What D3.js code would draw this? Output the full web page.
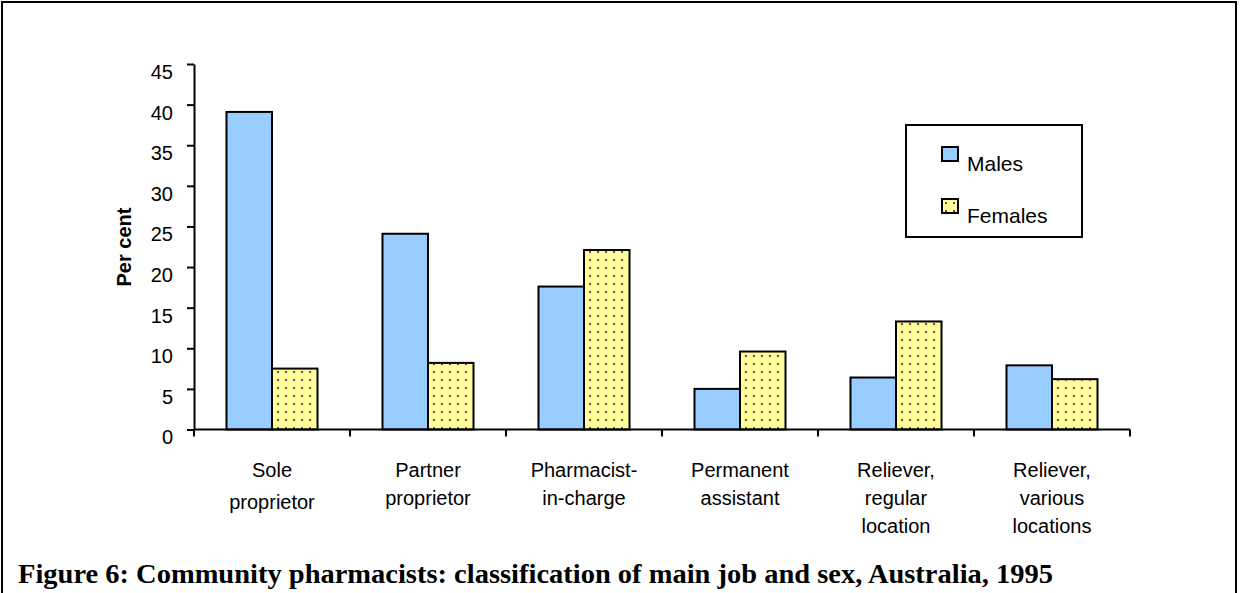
<!DOCTYPE html>
<html>
<head>
<meta charset="utf-8">
<script src="https://cdn.jsdelivr.net/npm/d3@7"></script>
<style>
  body { margin: 0; background: #fff; }
  svg { display: block; }
</style>
</head>
<body>
<div id="chart"></div>
<script>
// categories (each label split in its lines)
const categories = ["Sole proprietor", "Partner proprietor", "Pharmacist-in-charge",
    "Permanent assistant", "Reliever, regular location", "Reliever, various locations"];
const categoryLines = [
    ["Sole", "proprietor"],
    ["Partner", "proprietor"],
    ["Pharmacist-", "in-charge"],
    ["Permanent", "assistant"],
    ["Reliever,", "regular", "location"],
    ["Reliever,", "various", "locations"]
];
const seriesNames = ["Males", "Females"];
const males = [39.1, 24.1, 17.6, 5.0, 6.4, 7.9];
const females = [7.5, 8.2, 22.1, 9.6, 13.3, 6.2];
const yTicks = [0, 5, 10, 15, 20, 25, 30, 35, 40, 45];
const caption = "Figure 6: Community pharmacists: classification of main job and sex, Australia, 1995";

const width = 1241, height = 593;
const sans = "'Liberation Sans', Arial, sans-serif";

const svg = d3.select("#chart").append("svg")
    .attr("width", width)
    .attr("height", height)
    .style("font-family", sans);

// dotted pattern for the females bars
const defs = svg.append("defs");
const pat = defs.append("pattern")
    .attr("id", "dots")
    .attr("patternUnits", "userSpaceOnUse")
    .attr("width", 8).attr("height", 8);
pat.append("rect").attr("width", 8).attr("height", 8).attr("fill", "#ffff99");
pat.append("rect").attr("x", 3).attr("y", 3).attr("width", 2).attr("height", 2).attr("fill", "#993366");

const fills = {"Males": "#99ccff", "Females": "url(#dots)"};

// outer frame
svg.append("rect")
    .attr("x", 2).attr("y", 2)
    .attr("width", 1234).attr("height", 620)
    .attr("fill", "none").attr("stroke", "#000").attr("stroke-width", 2);

const x0 = 194, x1 = 1130, yBase = 429.5, yTop = 64;

const xScale = d3.scaleBand().domain(categories).range([x0, x1]);
const xInner = d3.scaleBand().domain(seriesNames).range([0, xScale.bandwidth()]).paddingOuter(0.714);
const yScale = d3.scaleLinear().domain([0, 45]).range([yBase, yTop]);

const data = categories.map((c, i) => ({cat: c, vals: [
    {s: "Males", v: males[i]}, {s: "Females", v: females[i]}]}));

// bars
const groups = svg.append("g").selectAll("g")
    .data(data)
    .join("g")
    .attr("transform", d => `translate(${xScale(d.cat)},0)`);

groups.selectAll("rect")
    .data(d => d.vals)
    .join("rect")
    .attr("x", d => xInner(d.s))
    .attr("y", d => yScale(d.v))
    .attr("width", xInner.bandwidth())
    .attr("height", d => yBase - yScale(d.v))
    .attr("fill", d => fills[d.s])
    .attr("stroke", "#000")
    .attr("stroke-width", 2);

// y axis
const yAxis = svg.append("g")
    .attr("transform", `translate(${x0},0)`)
    .call(d3.axisLeft(yScale).tickValues(yTicks).tickSize(7).tickPadding(14).tickSizeOuter(0));
yAxis.select(".domain").attr("stroke-width", 2);
yAxis.selectAll(".tick line").attr("stroke-width", 2);
yAxis.selectAll("text")
    .style("font-size", "20px").style("font-family", sans)
    .attr("fill", "#000")
    .attr("transform", "translate(0,8)");

// x axis: ticks at the category boundaries
const boundaries = categories.map(c => xScale(c)).concat([x1]);
const xg = svg.append("g");
xg.append("line")
    .attr("x1", x0).attr("x2", x1)
    .attr("y1", yBase).attr("y2", yBase)
    .attr("stroke", "#000").attr("stroke-width", 2);
xg.selectAll("line.tk")
    .data(boundaries)
    .join("line")
    .attr("class", "tk")
    .attr("x1", d => d).attr("x2", d => d)
    .attr("y1", yBase).attr("y2", yBase + 7)
    .attr("stroke", "#000").attr("stroke-width", 2);

// category labels
svg.append("g").selectAll("text")
    .data(categories)
    .join("text")
    .attr("text-anchor", "middle")
    .attr("font-size", 20)
    .attr("fill", "#000")
    .each(function(c, i) {
        d3.select(this).selectAll("tspan")
            .data(categoryLines[i])
            .join("tspan")
            .attr("x", xScale(c) + xScale.bandwidth() / 2)
            .attr("y", (d, j) => 477 + j * (i === 0 ? 32 : 28))
            .text(d => d);
    });

// y axis title
svg.append("text")
    .attr("transform", "translate(131,247) rotate(-90)")
    .attr("text-anchor", "middle")
    .attr("font-size", 20)
    .attr("font-weight", "bold")
    .text("Per cent");

// legend
const legend = svg.append("g");
legend.append("rect")
    .attr("x", 906).attr("y", 125)
    .attr("width", 176).attr("height", 112)
    .attr("fill", "#fff").attr("stroke", "#000").attr("stroke-width", 2);
const items = legend.selectAll("g.item")
    .data(seriesNames)
    .join("g")
    .attr("class", "item")
    .attr("transform", (d, i) => `translate(942,${147 + i * 52})`);
items.append("rect")
    .attr("width", 16).attr("height", 14)
    .attr("fill", d => fills[d])
    .attr("stroke", "#000").attr("stroke-width", 2);
items.append("text")
    .attr("x", 25).attr("y", 24)
    .attr("font-size", 21)
    .text(d => d);

// caption
svg.append("text")
    .attr("x", 18).attr("y", 583)
    .attr("font-family", "'Liberation Serif', 'Times New Roman', serif")
    .attr("font-weight", "bold")
    .attr("font-size", 27)
    .attr("textLength", 1035)
    .attr("lengthAdjust", "spacingAndGlyphs")
    .text(caption);
</script>
</body>
</html>
